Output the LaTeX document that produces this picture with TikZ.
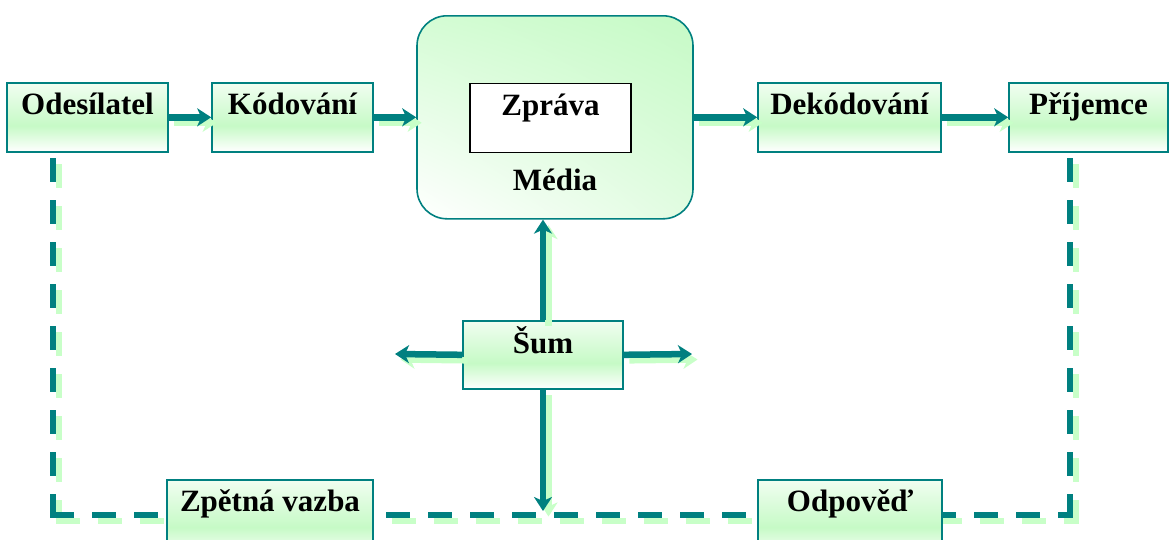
\documentclass[tikz,border=0pt]{standalone}
\usepackage{fontspec}
\setmainfont{Liberation Serif}
\usetikzlibrary{arrows.meta,shadings}
\definecolor{tealc}{RGB}{0,128,128}
\definecolor{shg}{RGB}{200,255,200}
\definecolor{boxg}{RGB}{198,250,198}
\definecolor{mg1}{RGB}{212,252,212}
\definecolor{mg2}{RGB}{225,252,225}
\pgfdeclareverticalshading{boxsh}{100bp}{color(0bp)=(white); color(25bp)=(white); color(44bp)=(boxg); color(75bp)=(white!75!boxg); color(100bp)=(white!75!boxg)}
\begin{document}
\begin{tikzpicture}[x=1pt,y=-1pt,
  lbl/.style={font=\fontsize{31}{36}\selectfont\bfseries, inner xsep=0pt, inner ysep=0pt},
  gbox/.style={lbl, draw=tealc, line width=1.6pt, anchor=north, text height=32pt, text depth=37pt,
     shading=boxsh},
  arr/.style={line width=6.5pt, -{Stealth[length=14pt,width=18pt,inset=4pt]}},
  dsh/.style={line width=6pt, line cap=rect, dash pattern=on 18pt off 24pt},
  shd/.style={shg, transform canvas={shift={(5.5pt,-5.5pt)}}}
]
\useasboundingbox (0,0) rectangle (1169,539);

% dashed feedback loop
\coordinate (dlt) at (53,161);
\coordinate (dlc) at (53,515);
\coordinate (drc) at (1070,515);
\coordinate (drt) at (1070,161);
\foreach \s/\e in {dlc/dlt, dlc/drc, drc/drt}{
  \draw[dsh, shd] (\s) -- (\e);
  \draw[dsh, tealc] (\s) -- (\e);
}

% nodes
\node[gbox, minimum width=161pt] (odes) at (87.5,82) {Odesílatel};
\node[gbox, minimum width=161pt] (kod) at (292.5,82) {Kódování};
\node[lbl, draw=tealc, line width=1.6pt, anchor=north, rounded corners=30pt,
      minimum width=276pt, text height=175pt, text depth=28pt,
      upper left=mg1, upper right=boxg, lower left=white, lower right=mg2] (media) at (555,15) {Média};
\node[lbl, draw=black, fill=white, line width=1.2pt, anchor=north, minimum width=161pt,
      text height=32pt, text depth=37pt] (zprava) at (550.5,83) {Zpráva};
\node[gbox, minimum width=183pt] (dek) at (849.5,82) {Dekódování};
\node[gbox, minimum width=159pt] (prij) at (1088.5,82) {Příjemce};
\node[gbox, minimum width=160pt, text height=33pt, text depth=35pt] (sum) at (543,320) {Šum};
\node[gbox, minimum width=206pt, text depth=45pt] (zpet) at (270,479) {Zpětná vazba};
\node[gbox, minimum width=184pt, text depth=45pt] (odp) at (850,479) {Odpověď};

\coordinate (sl) at (395,354);
\coordinate (sr) at (692,354);
\coordinate (sd) at (543,511);

% arrows with shadows
\foreach \s/\e in {odes.east/kod.west, kod.east/media.west, media.east/dek.west, dek.east/prij.west,
                   sum.west/sl, sum.east/sr, sum.south/sd}{
  \draw[arr, shd] (\s) -- (\e);
  \draw[arr, tealc] (\s) -- (\e);
}
\draw[arr, shd] (sum.north) -- (sum.north |- media.south);
\draw[arr, tealc] (sum.north) -- (sum.north |- media.south);
\end{tikzpicture}
\end{document}
